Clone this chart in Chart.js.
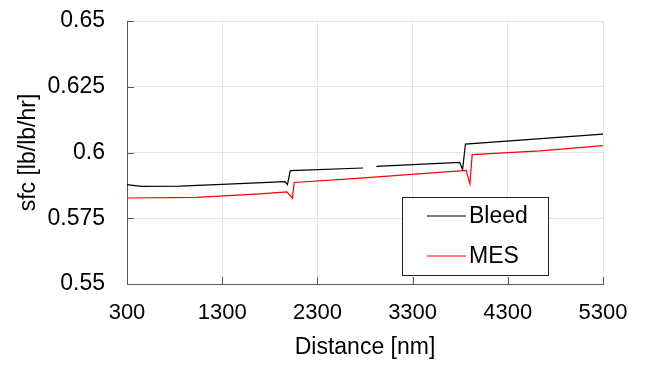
<!DOCTYPE html>
<html>
<head>
<meta charset="utf-8">
<title>sfc vs distance</title>
<script src="https://cdn.jsdelivr.net/npm/chart.js@4.4.1/dist/chart.umd.min.js"></script>
<style>
  html, body { margin: 0; padding: 0; background: #fff; }
  #wrap { width: 649px; height: 365px; }
</style>
</head>
<body>
<div id="wrap"><canvas id="c" width="649" height="365"></canvas></div>
<script>
// Specific fuel consumption along the mission, two configurations
const bleedX = [300, 450, 850, 1300, 1960, 1985, 2015, 2780, 2850, 2920, 3795, 3825, 3855, 5300];
const bleedY = [0.5878, 0.5871, 0.5872, 0.5879, 0.5889, 0.5878, 0.5931, 0.5941, null, 0.5947, 0.5962, 0.5935, 0.6032, 0.6070];

const mesX = [300, 1030, 1700, 1980, 2037, 2057, 2645, 3862, 3902, 3926, 4640, 5300];
const mesY = [0.5827, 0.5829, 0.5843, 0.5850, 0.5826, 0.5886, 0.5900, 0.5932, 0.5881, 0.5992, 0.6006, 0.6026];

const xTicks = [300, 1300, 2300, 3300, 4300, 5300];
const xTickLabels = ['300', '1300', '2300', '3300', '4300', '5300'];
const yTicks = [0.55, 0.575, 0.6, 0.625, 0.65];
const yTickLabels = ['0.55', '0.575', '0.6', '0.625', '0.65'];

const FONT = '"Liberation Sans", Arial, sans-serif';
const AXIS = '#595959';
const GRID = '#e2e5ea';

// short tick marks drawn inward from the axis lines
const innerTicks = {
  id: 'innerTicks',
  beforeDatasetsDraw(chart) {
    const { ctx, chartArea: a, scales: { x, y } } = chart;
    const len = 7;
    ctx.save();
    ctx.strokeStyle = AXIS;
    ctx.lineWidth = 1;
    ctx.beginPath();
    y.ticks.forEach(t => {
      const py = Math.round(y.getPixelForValue(t.value)) + 0.5;
      ctx.moveTo(a.left, py);
      ctx.lineTo(a.left + len, py);
    });
    x.ticks.forEach(t => {
      const px = Math.round(x.getPixelForValue(t.value)) + 0.5;
      ctx.moveTo(px, a.bottom);
      ctx.lineTo(px, a.bottom - len);
    });
    ctx.stroke();
    ctx.restore();
  }
};

// boxed legend sitting in the lower right of the plot
const boxLegend = {
  id: 'boxLegend',
  afterDatasetsDraw(chart) {
    const { ctx, chartArea: a } = chart;
    const w = 146, h = 78;
    const bx = a.right - 55 - w, by = a.bottom - 9 - h;
    ctx.save();
    ctx.fillStyle = '#fff';
    ctx.fillRect(bx, by, w, h);
    ctx.strokeStyle = '#222';
    ctx.lineWidth = 1;
    ctx.strokeRect(Math.round(bx) + 0.5, Math.round(by) + 0.5, w, h);
    ctx.font = '23px ' + FONT;
    ctx.textBaseline = 'middle';
    ctx.textAlign = 'left';
    chart.data.datasets.forEach((ds, i) => {
      const ly = by + 19 + i * 40;
      ctx.strokeStyle = ds.borderColor;
      ctx.lineWidth = ds.borderWidth;
      ctx.beginPath();
      ctx.moveTo(bx + 25, ly);
      ctx.lineTo(bx + 64, ly);
      ctx.stroke();
      ctx.fillStyle = '#000';
      ctx.fillText(ds.label, bx + 67, ly + 1);
    });
    ctx.restore();
  }
};

const toPoints = (xs, ys) => xs.map((v, i) => ({ x: v, y: ys[i] }));

new Chart(document.getElementById('c'), {
  type: 'line',
  data: {
    datasets: [
      { label: 'Bleed', data: toPoints(bleedX, bleedY), borderColor: '#000000', borderWidth: 1.2, pointRadius: 0, tension: 0, spanGaps: false },
      { label: 'MES', data: toPoints(mesX, mesY), borderColor: '#ff0000', borderWidth: 1.2, pointRadius: 0, tension: 0, spanGaps: false }
    ]
  },
  options: {
    responsive: false,
    animation: false,
    events: [],
    layout: { padding: { left: 0, right: 46, top: 21, bottom: 0 } },
    plugins: { legend: { display: false }, tooltip: { enabled: false } },
    scales: {
      x: {
        type: 'linear',
        min: 300,
        max: 5300,
        afterBuildTicks: s => { s.ticks = xTicks.map(v => ({ value: v })); },
        afterFit: s => { s.height = 81; s.paddingLeft = 0; s.paddingRight = 0; },
        grid: { color: GRID, lineWidth: 1, drawTicks: false },
        border: { color: AXIS, width: 1 },
        ticks: { autoSkip: false, maxRotation: 0, padding: 16, color: '#000', font: { family: FONT, size: 22 }, callback: (v, i) => xTickLabels[i] },
        title: { display: true, text: 'Distance [nm]', color: '#000', font: { family: FONT, size: 23 }, padding: { top: 0, bottom: 4 } }
      },
      y: {
        type: 'linear',
        min: 0.55,
        max: 0.65,
        afterBuildTicks: s => { s.ticks = yTicks.map(v => ({ value: v })); },
        afterFit: s => { s.width = 127; s.paddingTop = 0; s.paddingBottom = 0; },
        grid: { color: GRID, lineWidth: 1, drawTicks: false },
        border: { color: AXIS, width: 1 },
        ticks: { padding: 22, color: '#000', font: { family: FONT, size: 23 }, callback: (v, i) => yTickLabels[i] },
        title: { display: true, text: 'sfc [lb/lb/hr]', color: '#000', font: { family: FONT, size: 23 }, padding: { top: 15, bottom: 0 } }
      }
    }
  },
  plugins: [innerTicks, boxLegend]
});
</script>
</body>
</html>
